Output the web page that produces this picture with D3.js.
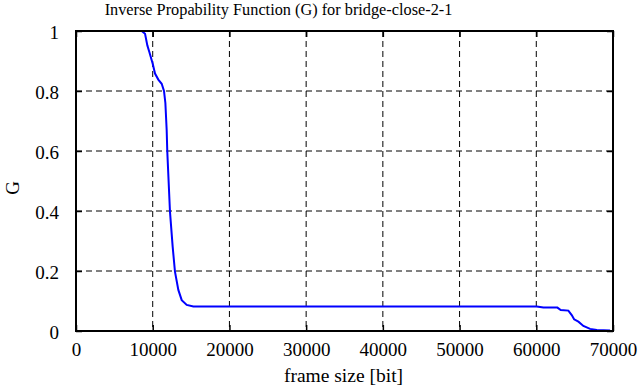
<!DOCTYPE html>
<html>
<head>
<meta charset="utf-8">
<script src="https://cdn.jsdelivr.net/npm/d3@7"></script>
</head>
<body style="margin:0; background:#fff; font-family:'Liberation Serif', serif">
<svg id="chart" width="639" height="387" style="font-family:'Liberation Serif', serif"></svg>
<script>
// frame size [bit] and G values
var frameSize = [8566, 9000, 9300, 9560, 10000, 10300, 10730, 11170, 11470, 11650, 11820, 11900,
                 12250, 12600, 12900, 13340, 13780, 14430, 15300, 20000, 30000, 40000, 50000,
                 60060, 60930, 62750, 63190, 64180, 64620, 64930, 65490, 66140, 67010, 67890, 69620];
var gValues   = [1.0, 0.991, 0.952, 0.93, 0.891, 0.858, 0.838, 0.824, 0.80, 0.76, 0.67, 0.598,
                 0.398, 0.281, 0.198, 0.137, 0.103, 0.087, 0.082, 0.082, 0.082, 0.082, 0.082,
                 0.082, 0.078, 0.078, 0.07, 0.068, 0.053, 0.039, 0.031, 0.017, 0.007, 0.003, 0.002];
var xTicks = [0, 10000, 20000, 30000, 40000, 50000, 60000, 70000];
var yTicks = [0, 0.2, 0.4, 0.6, 0.8, 1];

var pLeft = 76, pRight = 613, pTop = 31, pBottom = 331;
var serif = "'Liberation Serif', serif";

var svg = d3.select("#chart");

var xScale = d3.scaleLinear().domain([0, 70000]).range([pLeft, pRight]);
var yScale = d3.scaleLinear().domain([0, 1]).range([pBottom, pTop]);

//grid
svg.selectAll(".vgrid")
   .data(xTicks.slice(1, -1))
   .enter().append("line")
   .attr("x1", d => xScale(d)).attr("x2", d => xScale(d))
   .attr("y1", pTop).attr("y2", pBottom)
   .attr("stroke", "#000").attr("stroke-width", 1)
   .attr("stroke-dasharray", "6,4");

svg.selectAll(".hgrid")
   .data(yTicks.slice(1, -1))
   .enter().append("line")
   .attr("x1", pLeft).attr("x2", pRight)
   .attr("y1", d => yScale(d)).attr("y2", d => yScale(d))
   .attr("stroke", "#000").attr("stroke-width", 1)
   .attr("stroke-dasharray", "6,4");

//axes (gnuplot style: inward ticks on all sides)
var xAxis = d3.axisBottom(xScale).tickValues(xTicks).tickSize(-6).tickPadding(12).tickFormat(d3.format("d"));
var yAxis = d3.axisLeft(yScale).tickValues(yTicks).tickSize(-6).tickPadding(17).tickFormat(d => d);

var gx = svg.append("g").attr("transform", "translate(0," + pBottom + ")").call(xAxis);
var gy = svg.append("g").attr("transform", "translate(" + pLeft + ",0)").call(yAxis);
svg.append("g").attr("transform", "translate(0," + pTop + ")")
   .call(d3.axisTop(xScale).tickValues(xTicks).tickSize(-6).tickFormat(""));
svg.append("g").attr("transform", "translate(" + pRight + ",0)")
   .call(d3.axisRight(yScale).tickValues(yTicks).tickSize(-6).tickFormat(""));

svg.selectAll(".domain").remove();
svg.selectAll("g").attr("font-family", null);
svg.selectAll(".tick line").attr("stroke", "#000").attr("stroke-width", 1.5);
[gx, gy].forEach(g => g.selectAll("text")
   .style("font-family", serif).style("font-size", "19px").attr("fill", "#000"));
gy.selectAll("text").attr("dy", "0.42em");

//curve
var line = d3.line()
   .x((d, i) => xScale(frameSize[i]))
   .y(d => yScale(d));

svg.append("path")
   .datum(gValues)
   .attr("d", line)
   .attr("fill", "none")
   .attr("stroke", "#0000ff")
   .attr("stroke-width", 2);

//frame
svg.append("rect")
   .attr("x", pLeft).attr("y", pTop)
   .attr("width", pRight - pLeft).attr("height", pBottom - pTop)
   .attr("fill", "none").attr("stroke", "#000").attr("stroke-width", 2);

//titles
svg.append("text")
   .attr("x", 278.5).attr("y", 15)
   .attr("text-anchor", "middle")
   .style("font-family", serif).style("font-size", "16.3px")
   .text("Inverse Propability Function (G) for bridge-close-2-1");

svg.append("text")
   .attr("x", 343.5).attr("y", 382)
   .attr("text-anchor", "middle")
   .style("font-family", serif).style("font-size", "19.5px")
   .text("frame size [bit]");

svg.append("text")
   .attr("transform", "translate(19,188) rotate(-90)")
   .attr("text-anchor", "middle")
   .style("font-family", serif).style("font-size", "19px")
   .text("G");
</script>
</body>
</html>
